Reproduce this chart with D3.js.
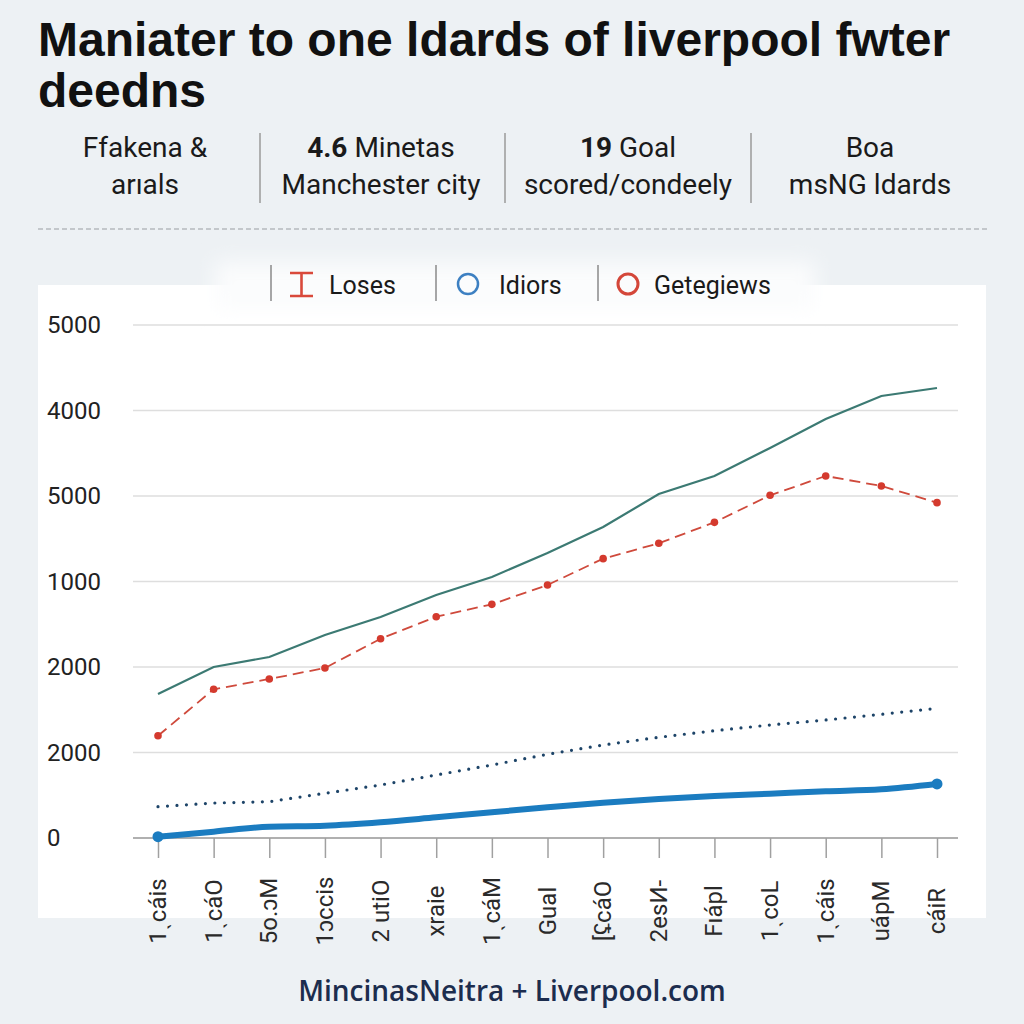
<!DOCTYPE html>
<html><head><meta charset="utf-8">
<script src="https://cdn.jsdelivr.net/npm/d3@7"></script>
<style>
html,body{margin:0;padding:0;background:#edf1f4;}
svg{display:block;}
</style></head>
<body>
<svg id="c" width="1024" height="1024"></svg>
<script>
// ---- data ----
const categories = ["1ˎcáis","1ˎcáO","5o.ɔM","1ɔccis","2 utiO","xraie","1ˎcáM","Gual","[ʢcáO","2esИ-","Fıápl","1ˎcoL","1ˎcáis","uápM","cáiR"];
const tealSeries   = [1684,2000,2117,2374,2585,2842,3053,3333,3637,4023,4234,4561,4901,5170,5263];
const redSeries    = [1196,1739,1860,1988,2331,2588,2733,2959,3267,3447,3692,4008,4234,4117,3922];
const dottedSeries = [366,409,425,523,620,737,854,979,1088,1178,1255,1322,1380,1447,1517];
const thickSeries  = [15,74,132,144,184,242,301,359,413,456,491,518,546,570,632];
const yTickValues  = [0,1000,2000,3000,4000,5000,6000];
const yTickLabels  = ["0","2000","2000","1000","5000","4000","5000"];
const titleLines   = ["Maniater to one ldards of liverpool fwter","deedns"];
const stats = [
  {bold:"", rest:"Ffakena &", line2:"arıals"},
  {bold:"4.6", rest:" Minetas", line2:"Manchester city"},
  {bold:"19", rest:" Goal", line2:"scored/condeely"},
  {bold:"", rest:"Boa", line2:"msNG ldards"}
];
const legendItems = ["Loses","Idiors","Getegiews"];
const footer = "MincinasNeitra + Liverpool.com";

const svg = d3.select("#c");
const FONT = "Roboto, 'Liberation Sans', sans-serif";

// background
svg.append("rect").attr("width",1024).attr("height",1024).attr("fill","#edf1f4");

// title
svg.append("g").selectAll("text").data(titleLines).join("text")
  .attr("x",38).attr("y",(d,i)=>56+i*51)
  .attr("font-family","'Liberation Sans', Arial, sans-serif").attr("font-weight","bold")
  .attr("font-size",48).attr("fill","#111").text(d=>d);

// stats row
const colX = [145,381,628,870];
const sg = svg.append("g").attr("font-family",FONT).attr("font-size",28).attr("fill","#1a1a1a");
stats.forEach((s,i)=>{
  const t = sg.append("text").attr("x",colX[i]).attr("y",157).attr("text-anchor","middle");
  if(s.bold) t.append("tspan").attr("font-weight","bold").text(s.bold);
  t.append("tspan").text(s.rest);
  sg.append("text").attr("x",colX[i]).attr("y",194).attr("text-anchor","middle").text(s.line2);
});
[260,505,751].forEach(x=>svg.append("line").attr("x1",x).attr("x2",x).attr("y1",133).attr("y2",203)
  .attr("stroke","#9a9a9a").attr("stroke-width",1.5));
svg.append("line").attr("x1",38).attr("x2",988).attr("y1",229).attr("y2",229)
  .attr("stroke","#b5b9bd").attr("stroke-width",1.3).attr("stroke-dasharray","5,3");

// chart panel
svg.append("rect").attr("x",38).attr("y",285).attr("width",948).attr("height",633).attr("fill","#ffffff");

// legend glow
const defs = svg.append("defs");
defs.append("filter").attr("id","blur").attr("x","-20%").attr("y","-50%").attr("width","140%").attr("height","200%")
  .append("feGaussianBlur").attr("stdDeviation",10);
svg.append("rect").attr("x",215).attr("y",262).attr("width",600).attr("height",48)
  .attr("fill","#fbfcfd").attr("filter","url(#blur)");

// scales
const x = d3.scalePoint().domain(d3.range(categories.length)).range([158,937]);
const y = d3.scaleLinear().domain([0,6000]).range([838,325]);

// grid
svg.append("g").selectAll("line").data(yTickValues).join("line")
  .attr("x1",133).attr("x2",958).attr("y1",d=>y(d)).attr("y2",d=>y(d))
  .attr("stroke","#dedede").attr("stroke-width",1.5);

// y labels
svg.append("g").selectAll("text").data(yTickValues).join("text")
  .attr("x",47).attr("y",d=>y(d)).attr("dy","0.35em")
  .attr("font-family",FONT).attr("font-size",24).attr("fill","#222")
  .text((d,i)=>yTickLabels[i]);

// x axis
const xAxis = d3.axisBottom(x).tickSize(20).tickFormat("");
const xg = svg.append("g").attr("transform","translate(0,838)").call(xAxis);
xg.select(".domain").attr("d","M133,0H958").attr("stroke","#b0b0b0").attr("stroke-width",2);
xg.selectAll(".tick line").attr("stroke","#a0a0a0").attr("stroke-width",1.5);

// x labels rotated
svg.append("g").selectAll("text").data(categories).join("text")
  .attr("transform",(d,i)=>`translate(${x(i)+8},911) rotate(-90)`)
  .attr("text-anchor","middle")
  .attr("font-family",FONT).attr("font-size",24).attr("fill","#2a2a2a")
  .text(d=>d);

const line = d3.line().x((d,i)=>x(i)).y(d=>y(d));

// teal
svg.append("path").datum(tealSeries).attr("d",line).attr("fill","none")
  .attr("stroke","#3c7a73").attr("stroke-width",2.2);

// red dashed
svg.append("path").datum(redSeries).attr("d",line).attr("fill","none")
  .attr("stroke","#cf4a3c").attr("stroke-width",1.8).attr("stroke-dasharray","11,6");
svg.append("g").selectAll("circle").data(redSeries).join("circle")
  .attr("cx",(d,i)=>x(i)).attr("cy",d=>y(d)).attr("r",3.8).attr("fill","#d43a2e");

// dotted navy
svg.append("path").datum(dottedSeries).attr("d",line).attr("fill","none")
  .attr("stroke","#1d4468").attr("stroke-width",3.2).attr("stroke-linecap","round")
  .attr("stroke-dasharray","0,9.5");

// thick blue
svg.append("path").datum(thickSeries).attr("d",d3.line().curve(d3.curveMonotoneX).x((d,i)=>x(i)).y(d=>y(d)))
  .attr("fill","none").attr("stroke","#1b7cc0").attr("stroke-width",6).attr("stroke-linecap","round");
svg.append("g").selectAll("circle").data([0,thickSeries.length-1]).join("circle")
  .attr("cx",i=>x(i)).attr("cy",i=>y(thickSeries[i])).attr("r",5.5).attr("fill","#1b7cc0");

// legend
const lg = svg.append("g").attr("font-family",FONT).attr("font-size",25).attr("fill","#1a1a1a");
[271,436,598].forEach(xx=>lg.append("line").attr("x1",xx).attr("x2",xx).attr("y1",265).attr("y2",301)
  .attr("stroke","#8a8a8a").attr("stroke-width",1.5));
// I-beam icon
lg.append("path").attr("d","M290,273H313M301.5,273V296M290,296H313").attr("stroke","#d9493b")
  .attr("stroke-width",2.6).attr("fill","none");
lg.append("circle").attr("cx",468).attr("cy",284).attr("r",10).attr("fill","none")
  .attr("stroke","#3d80c2").attr("stroke-width",2.5);
lg.append("circle").attr("cx",628).attr("cy",284).attr("r",10).attr("fill","none")
  .attr("stroke","#d4473a").attr("stroke-width",3);
const lx = [329,499,654];
legendItems.forEach((t,i)=>lg.append("text").attr("x",lx[i]).attr("y",285).attr("dy","0.35em").text(t));

// footer
svg.append("text").attr("x",512).attr("y",1001).attr("text-anchor","middle")
  .attr("font-family","'Open Sans', 'Noto Sans', sans-serif").attr("font-weight",600)
  .attr("font-size",28).attr("fill","#1c2d4e").text(footer);
</script>
</body></html>
